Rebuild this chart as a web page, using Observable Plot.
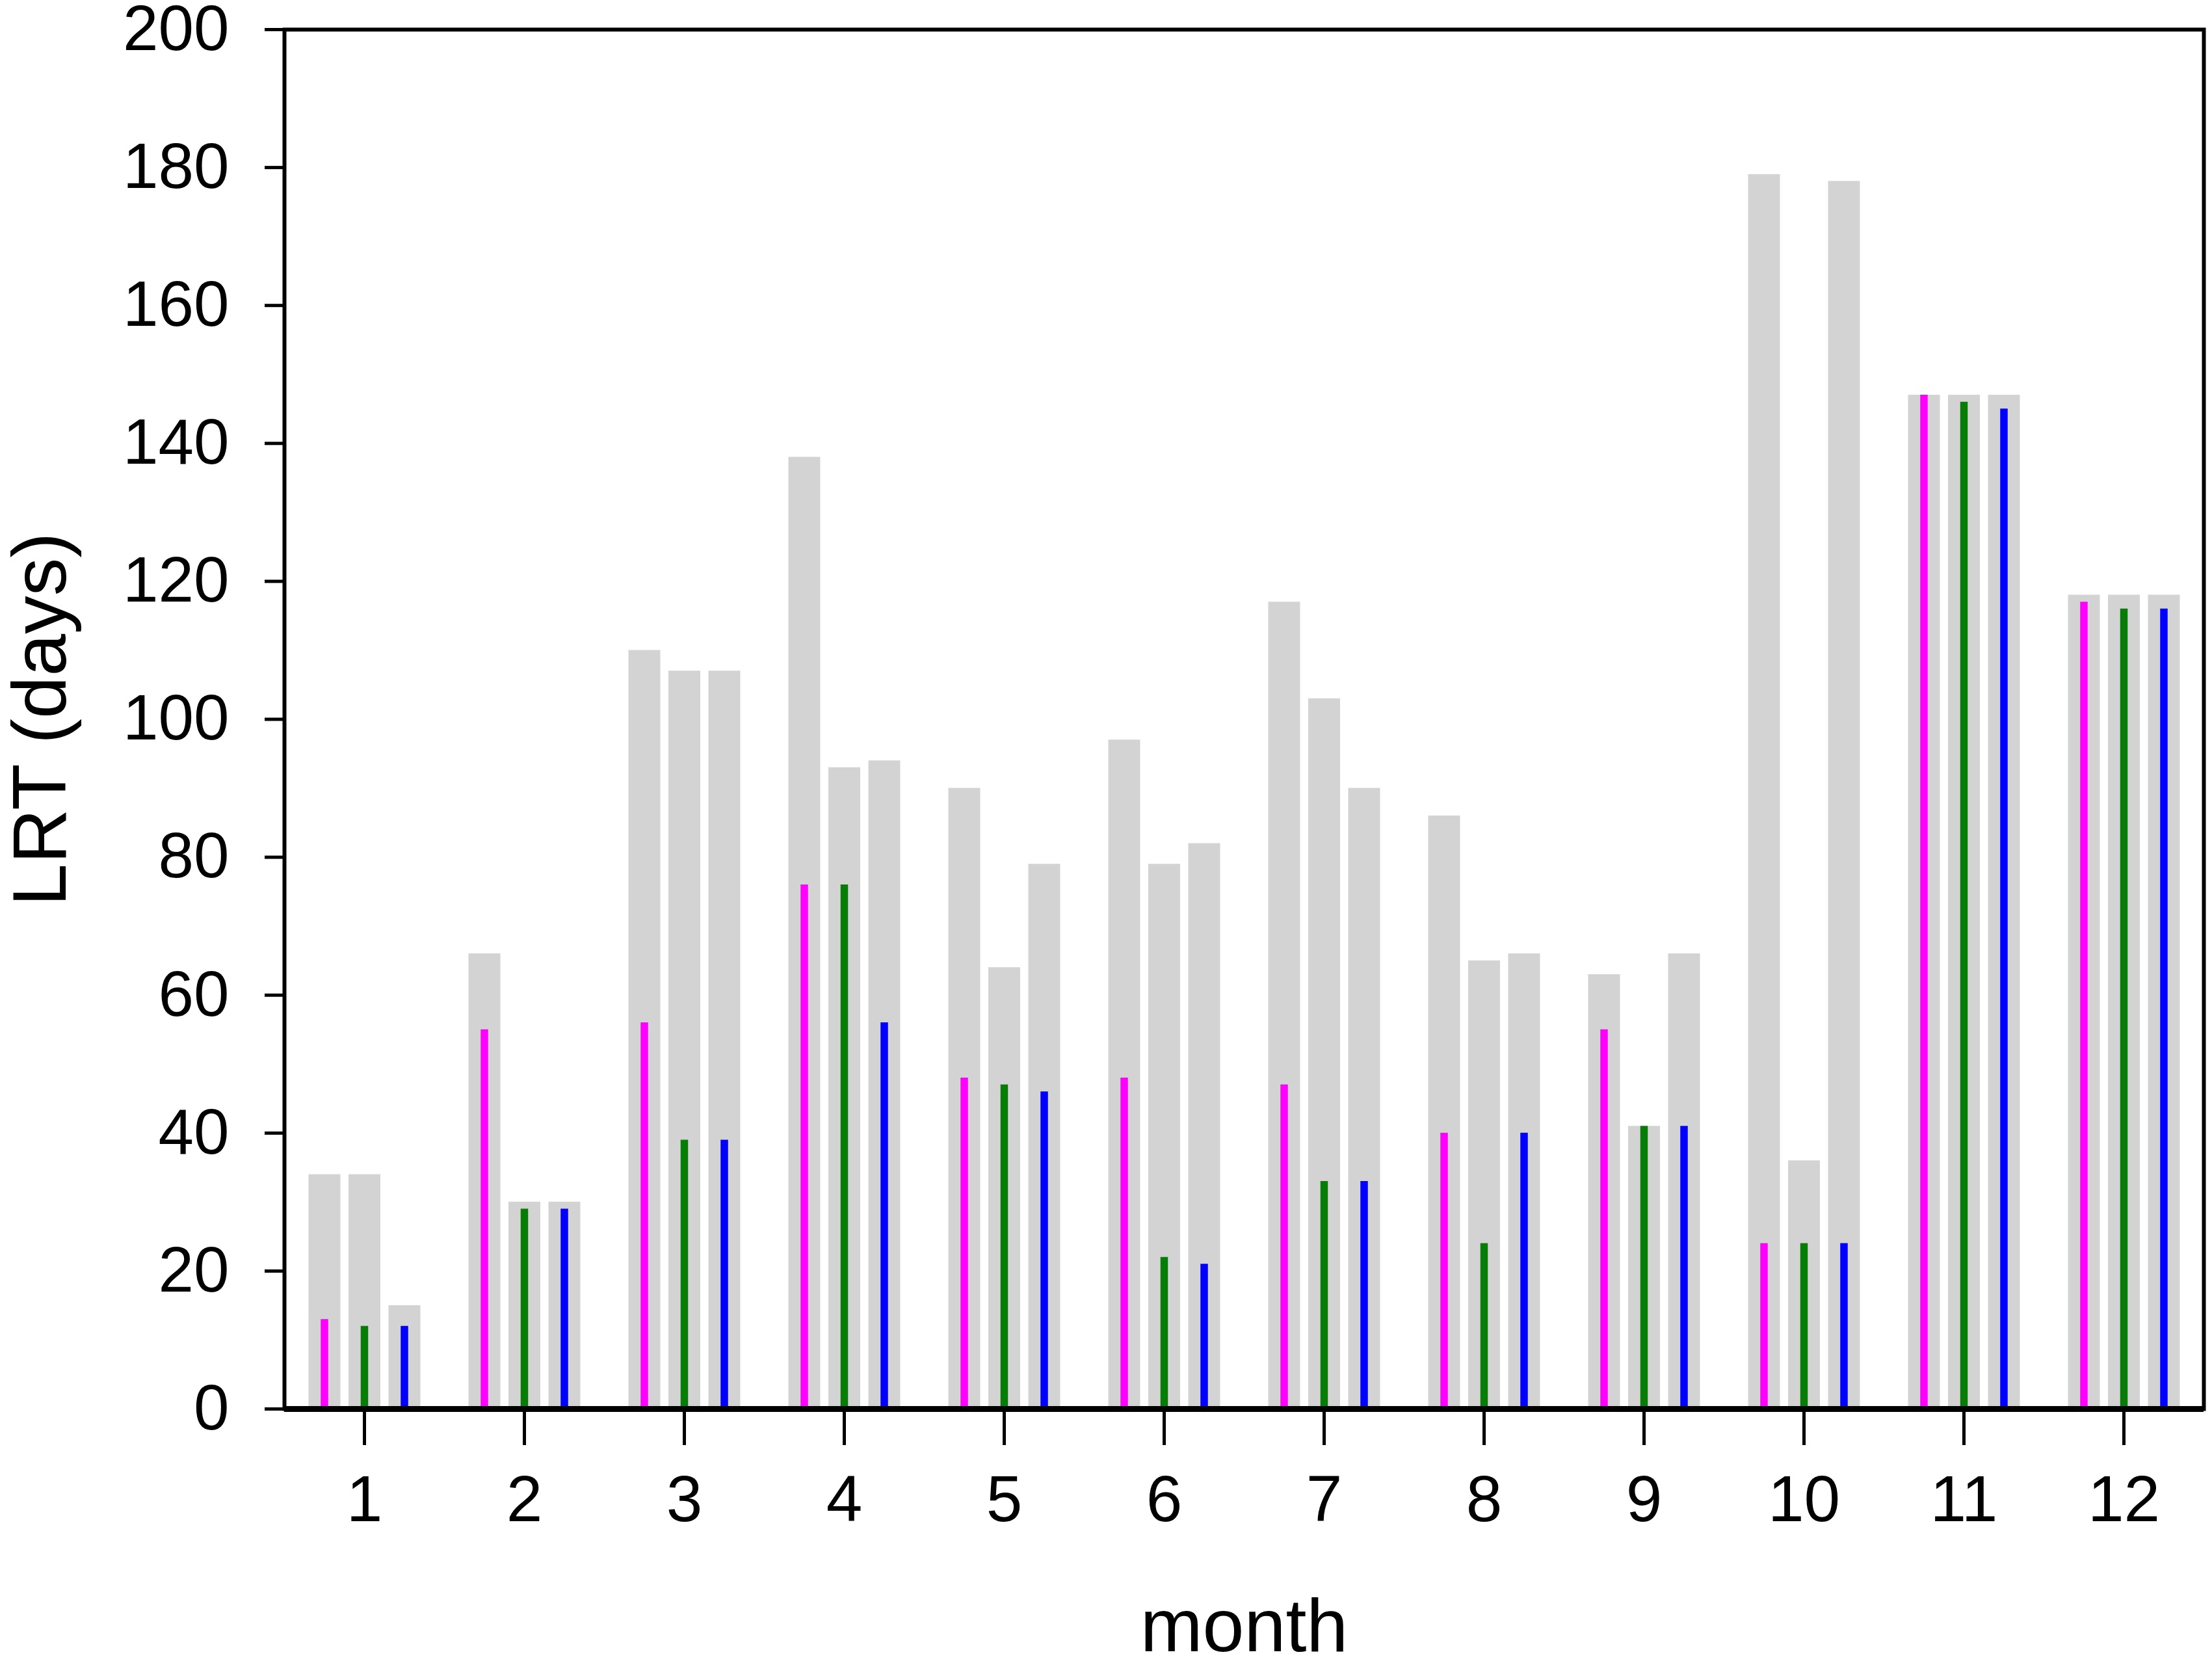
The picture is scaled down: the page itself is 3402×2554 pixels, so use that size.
<!DOCTYPE html>
<html>
<head>
<meta charset="utf-8">
<script src="https://cdn.jsdelivr.net/npm/d3@7"></script>
<script src="https://cdn.jsdelivr.net/npm/@observablehq/plot@0.6"></script>
<style>
  html, body { margin: 0; padding: 0; background: #fff; }
  svg { display: block; overflow: visible; }
</style>
</head>
<body>
<div id="chart"></div>
<script>
// ---- data ----
const months = [1, 2, 3, 4, 5, 6, 7, 8, 9, 10, 11, 12];
const yTicks = [0, 20, 40, 60, 80, 100, 120, 140, 160, 180, 200];

// light grey (total) bars, three per month
const grey1 = [34, 66, 110, 138, 90, 97, 117, 86, 63, 179, 147, 118];
const grey2 = [34, 30, 107, 93, 64, 79, 103, 65, 41, 36, 147, 118];
const grey3 = [15, 30, 107, 94, 79, 82, 90, 66, 66, 178, 147, 118];

// coloured inner bars
const magentaVals = [13, 55, 56, 76, 48, 48, 47, 40, 55, 24, 147, 117];
const greenVals   = [12, 29, 39, 76, 47, 22, 33, 24, 41, 24, 146, 116];
const blueVals    = [12, 29, 39, 56, 46, 21, 33, 40, 41, 24, 145, 116];

const slotOffsets = [-0.25, 0, 0.25];
const greySeries = [grey1, grey2, grey3];
const colourSeries = [magentaVals, greenVals, blueVals];
const colours = ["#ff00ff", "#077d07", "#0000ff"];

const greyRows = [];
const colourRows = [];
greySeries.forEach((vals, s) => months.forEach((m, i) =>
  greyRows.push({month: m, pos: m + slotOffsets[s], value: vals[i]})));
colourSeries.forEach((vals, s) => months.forEach((m, i) =>
  colourRows.push({month: m, pos: m + slotOffsets[s], value: vals[i], colour: colours[s]})));

const chart = Plot.plot({
  width: 3402,
  height: 2554,
  marginLeft: 437,
  marginRight: 13,
  marginTop: 45,
  marginBottom: 388,
  style: {fontFamily: "'Liberation Sans', Arial, sans-serif", background: "#fff", color: "#000"},
  x: {domain: [0.5, 12.5], label: null},
  y: {domain: [0, 200], label: null},
  marks: [
    Plot.ruleX(greyRows, {x: "pos", y1: 0, y2: "value", stroke: "#d3d3d3", strokeWidth: 49}),
    Plot.ruleX(colourRows, {x: "pos", y1: 0, y2: "value", stroke: "colour", strokeWidth: 11.5}),
    Plot.frame({stroke: "#000", strokeWidth: 6}),
    Plot.ruleY([0], {stroke: "#000", strokeWidth: 9}),
    Plot.axisY({ticks: yTicks, tickSize: 30, tickPadding: 55, strokeWidth: 5, fontSize: 98, label: null, tickFormat: d => String(d)}),
    Plot.axisX({ticks: months, tickSize: 56, tickPadding: 45, strokeWidth: 5, fontSize: 100, label: null, tickFormat: d => String(d)}),
    Plot.text(["month"], {frameAnchor: "bottom", lineAnchor: "middle", dy: 336, fontSize: 115, text: d => d}),
    Plot.text(["LRT (days)"], {frameAnchor: "left", textAnchor: "middle", lineAnchor: "middle", rotate: -90, dx: -374, fontSize: 117, text: d => d})
  ]
});
document.getElementById("chart").appendChild(chart);
</script>
</body>
</html>
